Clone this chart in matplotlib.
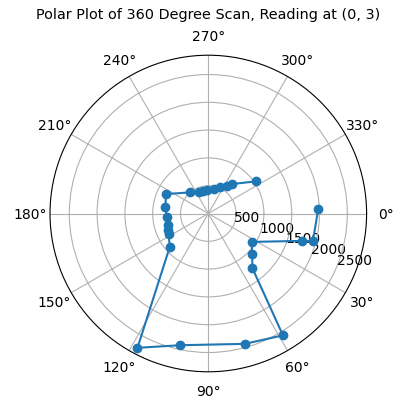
import numpy as np
import matplotlib
matplotlib.use("Agg")
import matplotlib.pyplot as plt

# scan angles (degrees) and distance readings, in scan order
angles_deg = [357.9, 14.7, 16.3, 33.3, 42.6, 51.1, 58.5, 74.3, 102.1, 117.8,
              138.9, 152.1, 157.3, 163.6, 174.8, 189.0, 204.6, 229.2, 246.2,
              257.5, 267.6, 283.1, 294.1, 303.5, 308.4, 325.8]
distances = [1977, 1945, 1755, 930, 1072, 1262, 2570, 2435, 2423, 2731,
             922, 803, 789, 762, 749, 780, 840, 502, 427,
             413, 421, 451, 514, 597, 675, 1027]

theta_ticks = list(range(0, 360, 30))
title = "Polar Plot of 360 Degree Scan, Reading at (0, 3)"

fig = plt.figure(figsize=(4.12, 4.02), dpi=100)
ax = fig.add_axes([0.1214, 0.0726, 0.7684, 0.7876], projection="polar")
ax.set_theta_zero_location("E")
ax.set_theta_direction(-1)

ax.plot(np.deg2rad(angles_deg), distances, marker="o")
ax.set_thetagrids(theta_ticks)
ax.set_title(title, fontsize=10.4, pad=8)

fig.savefig("out.png", dpi=100)
